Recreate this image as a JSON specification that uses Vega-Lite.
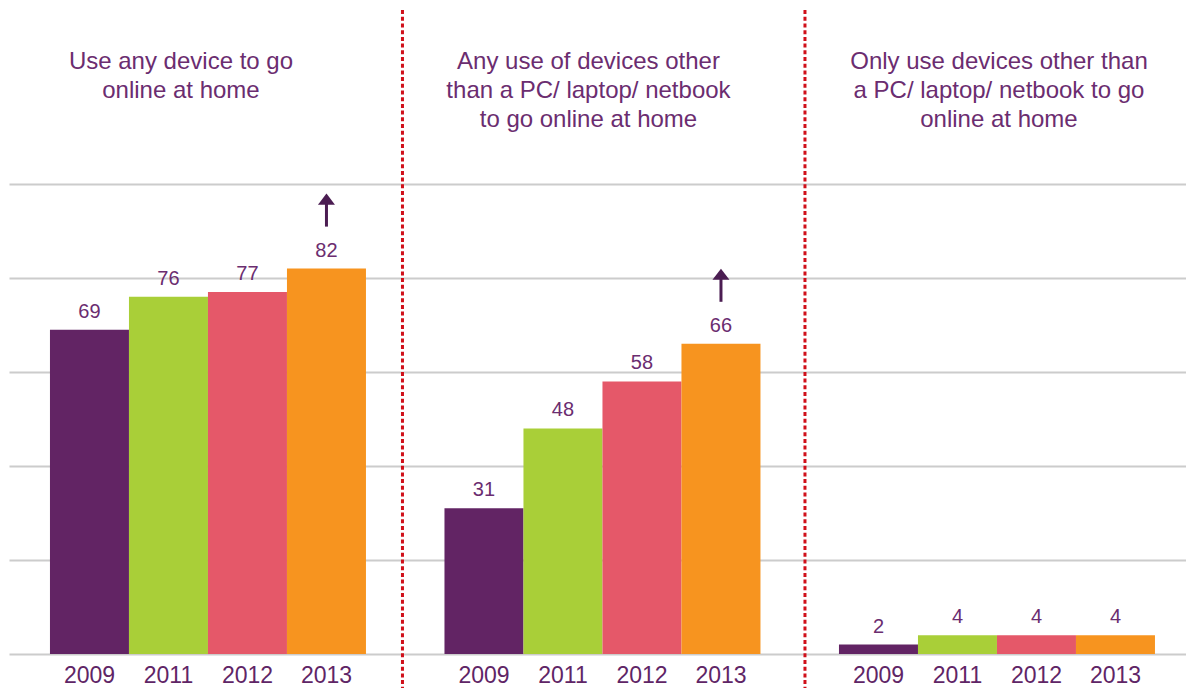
{
  "$schema": "https://vega.github.io/schema/vega-lite/v6.json",
  "width": 1177,
  "height": 470,
  "autosize": {"type": "none"},
  "padding": {"left": 9, "top": 184, "right": 0, "bottom": 34},
  "background": "white",
  "config": {"view": {"stroke": null}, "font": "Liberation Sans"},
  "datasets": {
    "bars": [
      {"panel": "A", "year": "2009", "value": 69, "sig": false},
      {"panel": "A", "year": "2011", "value": 76, "sig": false},
      {"panel": "A", "year": "2012", "value": 77, "sig": false},
      {"panel": "A", "year": "2013", "value": 82, "sig": true},
      {"panel": "B", "year": "2009", "value": 31, "sig": false},
      {"panel": "B", "year": "2011", "value": 48, "sig": false},
      {"panel": "B", "year": "2012", "value": 58, "sig": false},
      {"panel": "B", "year": "2013", "value": 66, "sig": true},
      {"panel": "C", "year": "2009", "value": 2, "sig": false},
      {"panel": "C", "year": "2011", "value": 4, "sig": false},
      {"panel": "C", "year": "2012", "value": 4, "sig": false},
      {"panel": "C", "year": "2013", "value": 4, "sig": false}
    ],
    "titles": [
      {"panel": "A", "title": ["Use any device to go", "online at home"]},
      {"panel": "B", "title": ["Any use of devices other", "than a PC/ laptop/ netbook", "to go online at home"]},
      {"panel": "C", "title": ["Only use devices other than", "a PC/ laptop/ netbook to go", "online at home"]}
    ],
    "separators": [{"panel": "B"}, {"panel": "C"}]
  },
  "layer": [
    {
      "data": {"name": "bars"},
      "mark": {"type": "bar"},
      "encoding": {
        "x": {"field": "panel", "type": "nominal", "scale": {"domain": ["A", "B", "C"], "paddingInner": 0.199, "paddingOuter": 0.09125, "align": 0.569}, "axis": null},
        "xOffset": {"field": "year", "type": "nominal", "scale": {"paddingInner": 0, "paddingOuter": 0}},
        "y": {"field": "value", "type": "quantitative", "scale": {"domain": [0, 100], "nice": false, "zero": true},
          "axis": {"values": [0, 20, 40, 60, 80, 100], "grid": true, "gridColor": "#cccccc", "gridWidth": 2, "labels": false, "ticks": false, "domain": false, "title": null}},
        "color": {"field": "year", "type": "nominal", "scale": {"domain": ["2009", "2011", "2012", "2013"], "range": ["#622464", "#a9cf38", "#e55869", "#f7941f"]}, "legend": null}
      }
    },
    {
      "data": {"name": "bars"},
      "mark": {"type": "text", "fontSize": 20, "color": "#6b2d70", "dy": -18, "baseline": "middle", "align": "center"},
      "encoding": {
        "x": {"field": "panel", "type": "nominal"},
        "xOffset": {"field": "year", "type": "nominal"},
        "y": {"field": "value", "type": "quantitative"},
        "text": {"field": "value", "type": "quantitative"}
      }
    },
    {
      "data": {"name": "bars"},
      "mark": {"type": "text", "fontSize": 23, "color": "#5f2566", "dy": 22, "baseline": "middle", "align": "center"},
      "encoding": {
        "x": {"field": "panel", "type": "nominal"},
        "xOffset": {"field": "year", "type": "nominal"},
        "y": {"datum": 0},
        "text": {"field": "year", "type": "nominal"}
      }
    },
    {
      "data": {"name": "bars"},
      "transform": [{"filter": "datum.sig"}],
      "mark": {"type": "rule", "strokeWidth": 3, "color": "#4b1d52", "yOffset": -42, "y2Offset": -67},
      "encoding": {
        "x": {"field": "panel", "type": "nominal"},
        "xOffset": {"field": "year", "type": "nominal"},
        "y": {"field": "value", "type": "quantitative"},
        "y2": {"field": "value"}
      }
    },
    {
      "data": {"name": "bars"},
      "transform": [{"filter": "datum.sig"}],
      "mark": {"type": "point", "shape": "M-1,0.65L0,-0.65L1,0.65Z", "size": 289, "filled": true, "opacity": 1, "color": "#4b1d52", "yOffset": -69.5},
      "encoding": {
        "x": {"field": "panel", "type": "nominal"},
        "xOffset": {"field": "year", "type": "nominal"},
        "y": {"field": "value", "type": "quantitative"}
      }
    },
    {
      "data": {"name": "separators"},
      "transform": [{"filter": "datum.panel == 'B'"}],
      "mark": {"type": "rule", "color": "#d0101a", "strokeWidth": 3, "strokeDash": [4, 2.7], "xOffset": -42},
      "encoding": {
        "x": {"field": "panel", "type": "nominal", "bandPosition": 0},
        "y": {"datum": 137},
        "y2": {"datum": -8}
      }
    },
    {
      "data": {"name": "separators"},
      "transform": [{"filter": "datum.panel == 'C'"}],
      "mark": {"type": "rule", "color": "#d0101a", "strokeWidth": 3, "strokeDash": [4, 2.7], "xOffset": -34},
      "encoding": {
        "x": {"field": "panel", "type": "nominal", "bandPosition": 0},
        "y": {"datum": 137},
        "y2": {"datum": -8}
      }
    },
    {
      "data": {"name": "titles"},
      "transform": [{"filter": "datum.panel == 'A'"}],
      "mark": {"type": "text", "fontSize": 24, "lineHeight": 29, "color": "#6b2d70", "align": "center", "baseline": "alphabetic", "dx": -27},
      "encoding": {
        "x": {"field": "panel", "type": "nominal"},
        "y": {"datum": 124.5},
        "text": {"field": "title"}
      }
    },
    {
      "data": {"name": "titles"},
      "transform": [{"filter": "datum.panel == 'B'"}],
      "mark": {"type": "text", "fontSize": 24, "lineHeight": 29, "color": "#6b2d70", "align": "center", "baseline": "alphabetic", "dx": -14},
      "encoding": {
        "x": {"field": "panel", "type": "nominal"},
        "y": {"datum": 124.5},
        "text": {"field": "title"}
      }
    },
    {
      "data": {"name": "titles"},
      "transform": [{"filter": "datum.panel == 'C'"}],
      "mark": {"type": "text", "fontSize": 24, "lineHeight": 29, "color": "#6b2d70", "align": "center", "baseline": "alphabetic", "dx": 2},
      "encoding": {
        "x": {"field": "panel", "type": "nominal"},
        "y": {"datum": 124.5},
        "text": {"field": "title"}
      }
    }
  ]
}
